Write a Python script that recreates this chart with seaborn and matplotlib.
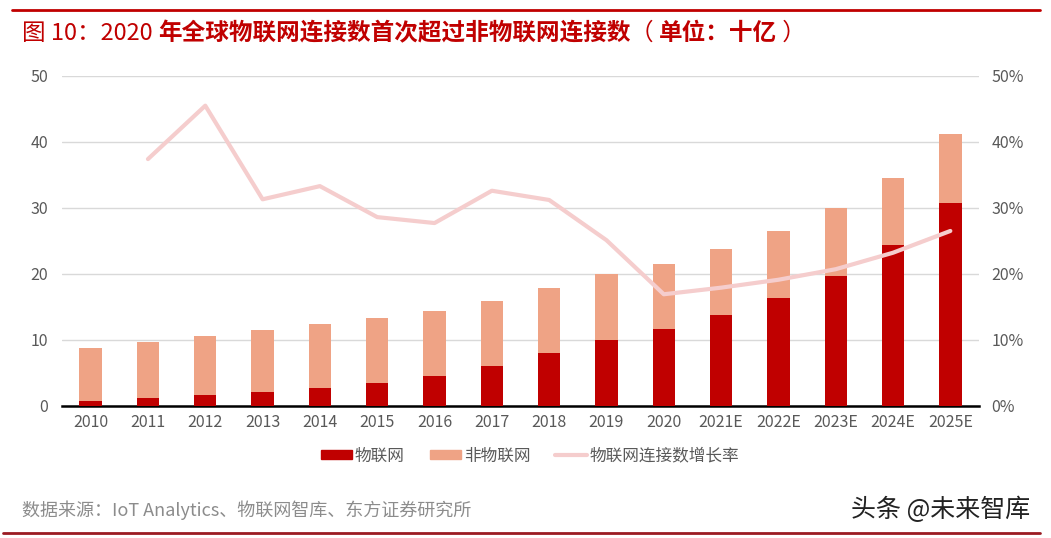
import numpy as np
import pandas as pd
import matplotlib
matplotlib.use("Agg")
import matplotlib.pyplot as plt
from matplotlib.patches import Patch
from matplotlib.lines import Line2D
from matplotlib.transforms import offset_copy
import seaborn as sns

years = ["2010", "2011", "2012", "2013", "2014", "2015", "2016", "2017",
         "2018", "2019", "2020", "2021E", "2022E", "2023E", "2024E", "2025E"]
iot = [0.7, 1.1, 1.6, 2.1, 2.7, 3.5, 4.5, 6.0,
       8.0, 10.0, 11.7, 13.8, 16.4, 19.7, 24.4, 30.8]
total = [8.7, 9.7, 10.6, 11.5, 12.4, 13.3, 14.3, 15.9,
         17.8, 20.0, 21.5, 23.8, 26.5, 30.0, 34.5, 41.2]
growth = [np.nan, 37.4, 45.5, 31.3, 33.3, 28.6, 27.7, 32.6,
          31.2, 25.1, 16.9, 17.9, 19.1, 20.7, 23.2, 26.5]

c_iot = "#C00000"
c_non = "#EFA385"
c_line = "#F5CDCD"
c_text = "#595959"

sns.set_theme(style="white")
plt.rcParams["font.family"] = ["Noto Sans CJK SC", "DejaVu Sans"]

df = pd.DataFrame({"year": years, "iot": iot, "total": total, "growth": growth})

fig = plt.figure(figsize=(10.51, 5.38), dpi=100)
ax = fig.add_axes([62 / 1051, 1 - 405.7 / 538, 917 / 1051, 329.7 / 538])

sns.barplot(data=df, x="year", y="total", color=c_non, width=0.39,
            saturation=1, linewidth=0, ax=ax, zorder=2)
sns.barplot(data=df, x="year", y="iot", color=c_iot, width=0.39,
            saturation=1, linewidth=0, ax=ax, zorder=3)

ax.set_xlim(-0.5, 15.5)
ax.set_ylim(0, 50)
ax.set_yticks(range(0, 51, 10))
ax.yaxis.grid(True, color="#D9D9D9", linewidth=1)
ax.set_axisbelow(True)
for s in ["top", "right", "left"]:
    ax.spines[s].set_visible(False)
ax.spines["bottom"].set_color("black")
ax.spines["bottom"].set_linewidth(1.8)
ax.set_xlabel("")
ax.set_ylabel("")
ax.tick_params(axis="both", length=0, labelsize=11.5, colors=c_text)
ax.tick_params(axis="x", pad=6)
ax.tick_params(axis="y", pad=10)

ax2 = ax.twinx()
sns.lineplot(x=np.arange(len(years)), y=df["growth"], color=c_line,
             linewidth=3, ax=ax2, zorder=4)
ax2.set_ylim(0, 50)
ax2.set_yticks(range(0, 51, 10))
ax2.set_yticklabels([f"{v}%" for v in range(0, 51, 10)])
ax2.set_xlim(-0.5, 15.5)
for s in ["top", "right", "left", "bottom"]:
    ax2.spines[s].set_visible(False)
ax2.set_ylabel("")
ax2.tick_params(axis="y", length=0, labelsize=11.5, colors=c_text, pad=9)

handles = [Patch(color=c_iot), Patch(color=c_non),
           Line2D([0], [0], color=c_line, linewidth=3)]
fig.legend(handles, ["物联网", "非物联网", "物联网连接数增长率"],
           loc="center", bbox_to_anchor=(530 / 1051, 1 - 456 / 538), ncol=3,
           frameon=False, fontsize=12, labelcolor=c_text,
           handlelength=1.9, handleheight=0.5, handletextpad=0.15,
           columnspacing=1.5)

fig.add_artist(Line2D([12 / 1051, 1040 / 1051], [1 - 10 / 538, 1 - 10 / 538],
                      color="#C00000", linewidth=2))

# title: number part regular, the rest bold
renderer = fig.canvas.get_renderer()
title_parts = [("图 10：2020 ", "normal"),
               ("年全球物联网连接数首次超过非物联网连接数", "bold"),
               ("（ ", "normal"), ("单位：十亿", "bold"), (" ）", "normal")]
x_px = 0.0
for txt, w in title_parts:
    t = fig.text(22 / 1051, 1 - 33 / 538, txt, color="#C00000", fontsize=17,
                 fontweight=w, va="center",
                 transform=offset_copy(fig.transFigure, fig=fig,
                                       x=x_px * 72 / fig.dpi, y=0,
                                       units="points"))
    x_px += t.get_window_extent(renderer).width

fig.text(22 / 1051, 1 - 510 / 538,
         "数据来源：IoT Analytics、物联网智库、东方证券研究所",
         color="#8C8C8C", fontsize=13, va="center")
fig.text(1030 / 1051, 1 - 510 / 538, "头条 @未来智库",
         color="#222222", fontsize=18, va="center", ha="right")
fig.add_artist(Line2D([3 / 1051, 1040 / 1051], [1 - 533 / 538, 1 - 533 / 538],
                      color="#9B1B22", linewidth=2))

fig.savefig("out.png", dpi=100)
